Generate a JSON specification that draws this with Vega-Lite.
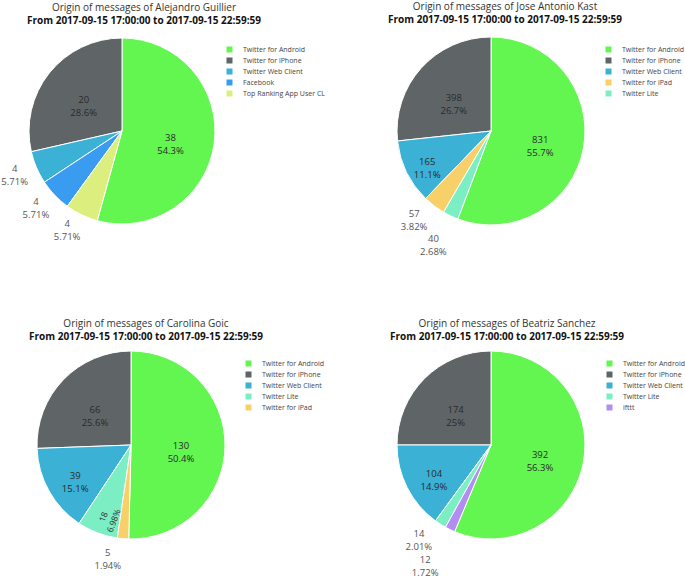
{
  "$schema": "https://vega.github.io/schema/vega-lite/v6.json",
  "padding": {"left": 1, "top": 2, "right": 0, "bottom": 0},
  "background": "white",
  "config": {
    "view": {"stroke": null},
    "font": "Open Sans",
    "title": {"fontSize": 10, "fontWeight": "normal", "color": "#333", "subtitleFontSize": 10, "subtitleFontWeight": "bold", "subtitleColor": "#111", "subtitlePadding": 3, "offset": 10, "anchor": "middle", "frame": "group"},
    "legend": {"title": null, "orient": "right", "labelFont": "Open Sans", "labelFontSize": 7, "labelColor": "#444", "symbolType": "square", "symbolSize": 36, "symbolStrokeWidth": 0, "rowPadding": 3, "labelOffset": 10, "padding": 10}
  },
  "data": {"values": [
    {"candidate": "Alejandro Guillier", "source": "Twitter for Android", "count": 38, "slice": 1},
    {"candidate": "Alejandro Guillier", "source": "Twitter for iPhone", "count": 20, "slice": 5},
    {"candidate": "Alejandro Guillier", "source": "Twitter Web Client", "count": 4, "slice": 4},
    {"candidate": "Alejandro Guillier", "source": "Facebook", "count": 4, "slice": 3},
    {"candidate": "Alejandro Guillier", "source": "Top Ranking App User CL", "count": 4, "slice": 2},
    {"candidate": "Jose Antonio Kast", "source": "Twitter for Android", "count": 831, "slice": 1},
    {"candidate": "Jose Antonio Kast", "source": "Twitter for iPhone", "count": 398, "slice": 5},
    {"candidate": "Jose Antonio Kast", "source": "Twitter Web Client", "count": 165, "slice": 4},
    {"candidate": "Jose Antonio Kast", "source": "Twitter for iPad", "count": 57, "slice": 3},
    {"candidate": "Jose Antonio Kast", "source": "Twitter Lite", "count": 40, "slice": 2},
    {"candidate": "Carolina Goic", "source": "Twitter for Android", "count": 130, "slice": 1},
    {"candidate": "Carolina Goic", "source": "Twitter for iPhone", "count": 66, "slice": 5},
    {"candidate": "Carolina Goic", "source": "Twitter Web Client", "count": 39, "slice": 4},
    {"candidate": "Carolina Goic", "source": "Twitter Lite", "count": 18, "slice": 3},
    {"candidate": "Carolina Goic", "source": "Twitter for iPad", "count": 5, "slice": 2},
    {"candidate": "Beatriz Sanchez", "source": "Twitter for Android", "count": 392, "slice": 1},
    {"candidate": "Beatriz Sanchez", "source": "Twitter for iPhone", "count": 174, "slice": 5},
    {"candidate": "Beatriz Sanchez", "source": "Twitter Web Client", "count": 104, "slice": 4},
    {"candidate": "Beatriz Sanchez", "source": "Twitter Lite", "count": 14, "slice": 3},
    {"candidate": "Beatriz Sanchez", "source": "ifttt", "count": 12, "slice": 2}
  ]},
  "columns": 2,
  "align": "none",
  "bounds": "flush",
  "spacing": {"column": 179, "row": 124},
  "resolve": {"scale": {"color": "independent"}},
  "concat": [
    {
      "width": 190, "height": 190,
      "title": {"text": "Origin of messages of Alejandro Guillier", "subtitle": "From 2017-09-15 17:00:00 to 2017-09-15 22:59:59", "dx": 22},
      "transform": [
        {"filter": "datum.candidate === 'Alejandro Guillier'"},
        {"joinaggregate": [{"op": "sum", "field": "count", "as": "total"}]},
        {"calculate": "datum.count / datum.total", "as": "pct"},
        {"calculate": "datum.count + '\\n' + format(datum.pct, '.3~p')", "as": "label"}
      ],
      "encoding": {
        "theta": {"field": "count", "type": "quantitative", "stack": true},
        "order": {"field": "slice", "type": "quantitative"}
      },
      "layer": [
        {"mark": {"type": "arc", "outerRadius": 93, "stroke": "#ffffff", "strokeWidth": 1},
         "encoding": {"color": {"field": "source", "type": "nominal",
           "scale": {"domain": ["Twitter for Android", "Twitter for iPhone", "Twitter Web Client", "Facebook", "Top Ranking App User CL"], "range": ["#63F651", "#5F6566", "#3BB1D5", "#3A9CF0", "#DCEE7E"]},
           "legend": {"offset": -1}}}},
        {"mark": {"type": "text", "radius": 49, "fontSize": 9.5, "color": "#2a2a2a", "lineBreak": "\n", "lineHeight": 13},
         "encoding": {"text": {"condition": {"test": "datum.pct >= 0.2", "field": "label", "type": "nominal"}, "value": ""}}},
        {"mark": {"type": "text", "radius": 108, "dx": -8, "dy": -4, "fontSize": 9.5, "color": "#555", "lineBreak": "\n", "lineHeight": 13},
         "encoding": {"text": {"condition": {"test": "datum.pct < 0.1", "field": "label", "type": "nominal"}, "value": ""}}}
      ]
    },
    {
      "width": 154, "height": 190,
      "title": {"text": "Origin of messages of Jose Antonio Kast", "subtitle": "From 2017-09-15 17:00:00 to 2017-09-15 22:59:59", "dx": 14},
      "transform": [
        {"filter": "datum.candidate === 'Jose Antonio Kast'"},
        {"joinaggregate": [{"op": "sum", "field": "count", "as": "total"}]},
        {"calculate": "datum.count / datum.total", "as": "pct"},
        {"calculate": "datum.count + '\\n' + format(datum.pct, '.3~p')", "as": "label"}
      ],
      "encoding": {
        "theta": {"field": "count", "type": "quantitative", "stack": true},
        "order": {"field": "slice", "type": "quantitative"}
      },
      "layer": [
        {"mark": {"type": "arc", "outerRadius": 94, "stroke": "#ffffff", "strokeWidth": 1},
         "encoding": {"color": {"field": "source", "type": "nominal",
           "scale": {"domain": ["Twitter for Android", "Twitter for iPhone", "Twitter Web Client", "Twitter for iPad", "Twitter Lite"], "range": ["#63F651", "#5F6566", "#3BB1D5", "#F7D06A", "#7CEEC4"]},
           "legend": {"offset": 27}}}},
        {"mark": {"type": "text", "radius": 50, "fontSize": 9.5, "color": "#2a2a2a", "lineBreak": "\n", "lineHeight": 13},
         "encoding": {"text": {"condition": {"test": "datum.pct >= 0.2", "field": "label", "type": "nominal"}, "value": ""}}},
        {"mark": {"type": "text", "radius": 71, "fontSize": 9.5, "color": "#2a2a2a", "lineBreak": "\n", "lineHeight": 13},
         "encoding": {"text": {"condition": {"test": "datum.pct >= 0.1 && datum.pct < 0.2", "field": "label", "type": "nominal"}, "value": ""}}},
        {"mark": {"type": "text", "radius": 104, "dx": -14, "fontSize": 9.5, "color": "#555", "lineBreak": "\n", "lineHeight": 13},
         "encoding": {"text": {"condition": {"test": "datum.source === 'Twitter for iPad'", "field": "label", "type": "nominal"}, "value": ""}}},
        {"mark": {"type": "text", "radius": 120, "dx": -6, "fontSize": 9.5, "color": "#555", "lineBreak": "\n", "lineHeight": 13},
         "encoding": {"text": {"condition": {"test": "datum.source === 'Twitter Lite'", "field": "label", "type": "nominal"}, "value": ""}}}
      ]
    },
    {
      "width": 208, "height": 190,
      "title": {"text": "Origin of messages of Carolina Goic", "subtitle": "From 2017-09-15 17:00:00 to 2017-09-15 22:59:59", "dx": 15, "offset": 7},
      "transform": [
        {"filter": "datum.candidate === 'Carolina Goic'"},
        {"joinaggregate": [{"op": "sum", "field": "count", "as": "total"}]},
        {"calculate": "datum.count / datum.total", "as": "pct"},
        {"calculate": "datum.count + '\\n' + format(datum.pct, '.3~p')", "as": "label"}
      ],
      "encoding": {
        "theta": {"field": "count", "type": "quantitative", "stack": true},
        "order": {"field": "slice", "type": "quantitative"}
      },
      "layer": [
        {"mark": {"type": "arc", "outerRadius": 94, "stroke": "#ffffff", "strokeWidth": 1},
         "encoding": {"color": {"field": "source", "type": "nominal",
           "scale": {"domain": ["Twitter for Android", "Twitter for iPhone", "Twitter Web Client", "Twitter Lite", "Twitter for iPad"], "range": ["#63F651", "#5F6566", "#3BB1D5", "#7CEEC4", "#F7D06A"]},
           "legend": {"offset": 0}}}},
        {"mark": {"type": "text", "radius": 50, "fontSize": 9.5, "color": "#2a2a2a", "lineBreak": "\n", "lineHeight": 13},
         "encoding": {"text": {"condition": {"test": "datum.pct >= 0.2", "field": "label", "type": "nominal"}, "value": ""}}},
        {"mark": {"type": "text", "radius": 64, "fontSize": 9.5, "color": "#2a2a2a", "lineBreak": "\n", "lineHeight": 13},
         "encoding": {"text": {"condition": {"test": "datum.pct >= 0.1 && datum.pct < 0.2", "field": "label", "type": "nominal"}, "value": ""}}},
        {"mark": {"type": "text", "radius": 77, "angle": -69, "fontSize": 8.5, "color": "#2a2a2a", "lineBreak": "\n", "lineHeight": 11},
         "encoding": {"text": {"condition": {"test": "datum.pct >= 0.06 && datum.pct < 0.1", "field": "label", "type": "nominal"}, "value": ""}}},
        {"mark": {"type": "text", "radius": 108, "dx": -14, "fontSize": 9.5, "color": "#555", "lineBreak": "\n", "lineHeight": 13},
         "encoding": {"text": {"condition": {"test": "datum.pct < 0.06", "field": "label", "type": "nominal"}, "value": ""}}}
      ]
    },
    {
      "width": 154, "height": 190,
      "title": {"text": "Origin of messages of Beatriz Sanchez", "subtitle": "From 2017-09-15 17:00:00 to 2017-09-15 22:59:59", "dx": 16, "offset": 7},
      "transform": [
        {"filter": "datum.candidate === 'Beatriz Sanchez'"},
        {"joinaggregate": [{"op": "sum", "field": "count", "as": "total"}]},
        {"calculate": "datum.count / datum.total", "as": "pct"},
        {"calculate": "datum.count + '\\n' + format(datum.pct, '.3~p')", "as": "label"}
      ],
      "encoding": {
        "theta": {"field": "count", "type": "quantitative", "stack": true},
        "order": {"field": "slice", "type": "quantitative"}
      },
      "layer": [
        {"mark": {"type": "arc", "outerRadius": 94, "stroke": "#ffffff", "strokeWidth": 1},
         "encoding": {"color": {"field": "source", "type": "nominal",
           "scale": {"domain": ["Twitter for Android", "Twitter for iPhone", "Twitter Web Client", "Twitter Lite", "ifttt"], "range": ["#63F651", "#5F6566", "#3BB1D5", "#7CEEC4", "#B28DF2"]},
           "legend": {"offset": 28}}}},
        {"mark": {"type": "text", "radius": 50, "fontSize": 9.5, "color": "#2a2a2a", "lineBreak": "\n", "lineHeight": 13},
         "encoding": {"text": {"condition": {"test": "datum.pct >= 0.2", "field": "label", "type": "nominal"}, "value": ""}}},
        {"mark": {"type": "text", "radius": 64, "fontSize": 9.5, "color": "#2a2a2a", "lineBreak": "\n", "lineHeight": 13},
         "encoding": {"text": {"condition": {"test": "datum.pct >= 0.1 && datum.pct < 0.2", "field": "label", "type": "nominal"}, "value": ""}}},
        {"mark": {"type": "text", "radius": 106, "dx": -15, "fontSize": 9.5, "color": "#555", "lineBreak": "\n", "lineHeight": 13},
         "encoding": {"text": {"condition": {"test": "datum.source === 'Twitter Lite'", "field": "label", "type": "nominal"}, "value": ""}}},
        {"mark": {"type": "text", "radius": 128, "dx": -10, "fontSize": 9.5, "color": "#555", "lineBreak": "\n", "lineHeight": 13},
         "encoding": {"text": {"condition": {"test": "datum.source === 'ifttt'", "field": "label", "type": "nominal"}, "value": ""}}}
      ]
    }
  ]
}
